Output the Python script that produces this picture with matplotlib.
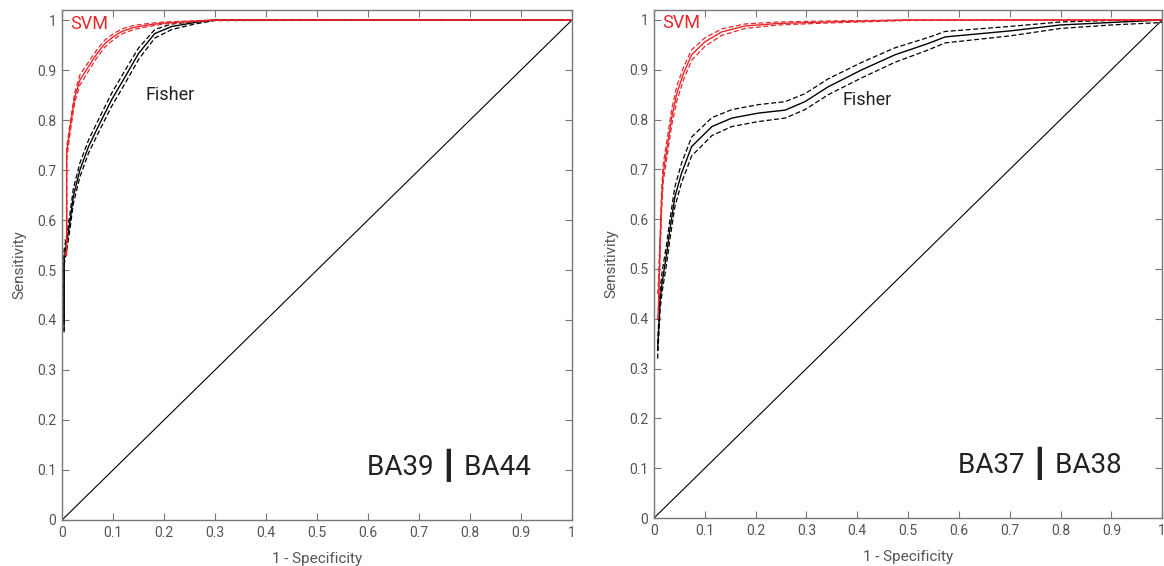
import matplotlib.pyplot as plt
import numpy as np

# left panel: BA39 | BA44
fpr_svm_a = [0.004, 0.009, 0.009, 0.016, 0.025, 0.035, 0.052, 0.068, 0.084, 0.1, 0.117, 0.14, 0.169, 0.2, 0.247, 0.3, 1.0]
sen_svm_a = [0.534, 0.534, 0.734, 0.786, 0.846, 0.88, 0.907, 0.932, 0.953, 0.966, 0.977, 0.985, 0.99, 0.994, 0.997, 1.0, 1.0]
sen_svm_a_lo = [0.53, 0.53, 0.72, 0.776, 0.836, 0.87, 0.898, 0.924, 0.946, 0.96, 0.972, 0.981, 0.987, 0.992, 0.996, 0.999, 1.0]
sen_svm_a_hi = [0.56, 0.56, 0.745, 0.796, 0.855, 0.89, 0.916, 0.94, 0.96, 0.972, 0.982, 0.989, 0.993, 0.996, 0.998, 1.0, 1.0]

fpr_fis_a = [0.004, 0.004, 0.01, 0.016, 0.022, 0.035, 0.052, 0.071, 0.097, 0.124, 0.15, 0.182, 0.215, 0.26, 0.3, 1.0]
sen_fis_a = [0.38, 0.526, 0.56, 0.6, 0.647, 0.70, 0.747, 0.787, 0.84, 0.887, 0.933, 0.973, 0.987, 0.995, 1.0, 1.0]
sen_fis_a_lo = [0.375, 0.51, 0.545, 0.585, 0.632, 0.686, 0.734, 0.774, 0.827, 0.874, 0.921, 0.964, 0.981, 0.992, 0.999, 1.0]
sen_fis_a_hi = [0.40, 0.54, 0.575, 0.615, 0.662, 0.714, 0.760, 0.80, 0.853, 0.90, 0.944, 0.981, 0.992, 0.997, 1.0, 1.0]

# right panel: BA37 | BA38
fpr_svm_b = [0.007, 0.008, 0.012, 0.015, 0.018, 0.025, 0.035, 0.045, 0.058, 0.074, 0.1, 0.133, 0.179, 0.245, 0.343, 0.5, 1.0]
sen_svm_b = [0.40, 0.401, 0.552, 0.639, 0.692, 0.739, 0.806, 0.853, 0.893, 0.93, 0.956, 0.976, 0.988, 0.993, 0.996, 1.0, 1.0]
sen_svm_b_lo = [0.40, 0.40, 0.535, 0.62, 0.675, 0.722, 0.79, 0.838, 0.88, 0.919, 0.947, 0.969, 0.983, 0.99, 0.994, 0.999, 1.0]
sen_svm_b_hi = [0.45, 0.46, 0.57, 0.66, 0.71, 0.756, 0.822, 0.868, 0.905, 0.94, 0.964, 0.982, 0.992, 0.996, 0.998, 1.0, 1.0]

fpr_fis_b = [0.007, 0.012, 0.016, 0.025, 0.031, 0.041, 0.054, 0.074, 0.114, 0.153, 0.205, 0.258, 0.297, 0.343, 0.409, 0.474, 0.54, 0.573, 0.7, 0.8, 0.9, 1.0]
sen_fis_b = [0.337, 0.438, 0.474, 0.532, 0.578, 0.645, 0.692, 0.746, 0.786, 0.803, 0.813, 0.819, 0.836, 0.866, 0.90, 0.93, 0.953, 0.966, 0.978, 0.99, 0.995, 1.0]
sen_fis_b_lo = [0.32, 0.42, 0.455, 0.512, 0.558, 0.625, 0.673, 0.727, 0.768, 0.786, 0.796, 0.803, 0.82, 0.85, 0.884, 0.915, 0.94, 0.954, 0.968, 0.983, 0.99, 0.995]
sen_fis_b_hi = [0.35, 0.46, 0.495, 0.552, 0.598, 0.665, 0.712, 0.765, 0.804, 0.82, 0.83, 0.836, 0.852, 0.882, 0.915, 0.944, 0.965, 0.977, 0.987, 0.996, 0.999, 1.0]

ticks = [0, 0.1, 0.2, 0.3, 0.4, 0.5, 0.6, 0.7, 0.8, 0.9, 1]
tick_labels = ['0', '0.1', '0.2', '0.3', '0.4', '0.5', '0.6', '0.7', '0.8', '0.9', '1']

plt.rcParams['font.family'] = ['Roboto', 'DejaVu Sans']

GRAY = '#777777'
RED = '#e8262b'

fig = plt.figure(figsize=(11.64, 5.66), dpi=100)
ax1 = fig.add_axes([0.0533, 0.0813, 0.4381, 0.901])
ax2 = fig.add_axes([0.5619, 0.0848, 0.4365, 0.8975])


def draw(ax, fs, ss, slo, shi, ff, sf, flo, fhi, title, fisher_xy):
    ax.plot([0, 1], [0, 1], color='black', lw=0.8)
    ax.plot(ff, flo, color='black', lw=0.9, ls=(0, (4, 2)))
    ax.plot(ff, fhi, color='black', lw=0.9, ls=(0, (4, 2)))
    ax.plot(ff, sf, color='black', lw=1.0)
    ax.plot(fs, slo, color=RED, lw=0.9, ls=(0, (4, 2)))
    ax.plot(fs, shi, color=RED, lw=0.9, ls=(0, (4, 2)))
    ax.plot(fs, ss, color=RED, lw=1.0)
    ax.set_xlim(0, 1)
    ax.set_ylim(0, 1.02)
    ax.set_xticks(ticks)
    ax.set_xticklabels(tick_labels)
    ax.set_yticks(ticks)
    ax.set_yticklabels(tick_labels)
    ax.tick_params(direction='in', top=True, right=True, length=5, color=GRAY,
                   labelcolor='#555555', labelsize=10, pad=4)
    for s in ax.spines.values():
        s.set_color(GRAY)
        s.set_linewidth(1.0)
    ax.set_xlabel('1 - Specificity', color='#555555', fontsize=11, labelpad=9)
    ax.set_ylabel('Sensitivity', color='#555555', fontsize=11, labelpad=8)
    ax.text(0.016, 0.993, 'SVM', color=RED, fontsize=13, va='center', ha='left')
    ax.text(fisher_xy[0], fisher_xy[1], 'Fisher', color='#222222', fontsize=13, va='center', ha='left')
    ax.text(0.92, 0.11, title, color='#222222', fontsize=20, ha='right', va='center')


draw(ax1, fpr_svm_a, sen_svm_a, sen_svm_a_lo, sen_svm_a_hi,
     fpr_fis_a, sen_fis_a, sen_fis_a_lo, sen_fis_a_hi, 'BA39 \u2503 BA44', (0.163, 0.85))
draw(ax2, fpr_svm_b, sen_svm_b, sen_svm_b_lo, sen_svm_b_hi,
     fpr_fis_b, sen_fis_b, sen_fis_b_lo, sen_fis_b_hi, 'BA37 \u2503 BA38', (0.37, 0.84))

fig.savefig('out.png', dpi=100)
